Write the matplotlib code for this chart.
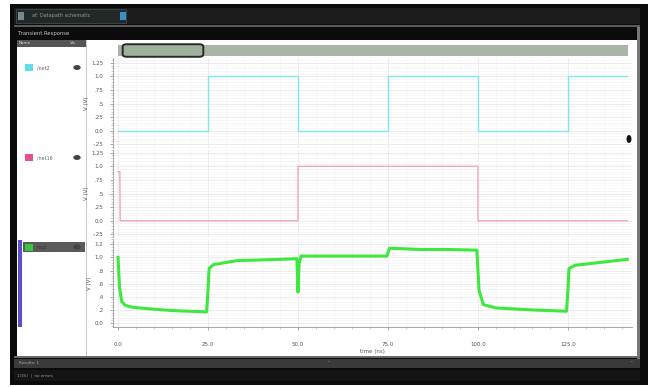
import numpy as np
import matplotlib
matplotlib.use("Agg")
import matplotlib.pyplot as plt
from matplotlib.patches import Rectangle, FancyBboxPatch, Ellipse
from matplotlib.ticker import MultipleLocator, FixedLocator

# --- data ---
net2_t = [0, 25, 25, 50, 50, 75, 75, 100, 100, 125, 125, 141.5]
net2_v = [0, 0, 1.0, 1.0, 0, 0, 1.0, 1.0, 0, 0, 1.0, 1.0]

net16_t = [0, 0.5, 0.6, 50, 50, 100, 100, 141.5]
net16_v = [0.9, 0.9, 0, 0, 1.0, 1.0, 0, 0]

out_t = [0, 0.4, 1.0, 2, 4, 8, 15, 24.6, 25.0, 25.3, 26.5, 33, 45, 49.7,
         50.0, 50.3, 50.8, 60, 74.7, 75.4, 84, 92, 99.7, 100.3, 101.5,
         105, 115, 124.6, 125.0, 125.3, 127, 135, 141.5]
out_v = [1.0, 0.55, 0.33, 0.27, 0.24, 0.22, 0.19, 0.17, 0.5, 0.83, 0.89,
         0.95, 0.97, 0.98, 0.47, 0.9, 1.02, 1.02, 1.02, 1.14, 1.12, 1.12,
         1.11, 0.5, 0.28, 0.23, 0.2, 0.18, 0.5, 0.83, 0.88, 0.93, 0.97]

volt_ticks = [-0.25, 0, 0.25, 0.5, 0.75, 1.0, 1.25]
volt_labels = ['-.25', '0.0', '.25', '.5', '.75', '1.0', '1.25']
out_ticks = [0, 0.2, 0.4, 0.6, 0.8, 1.0, 1.2]
out_labels = ['0.0', '.2', '.4', '.6', '.8', '1.0', '1.2']
time_ticks = [0, 25, 50, 75, 100, 125]
time_labels = ['0.0', '25.0', '50.0', '75.0', '100.0', '125.0']

W, H = 650, 387


def box(x0, y0, x1, y1):
    # pixel box (top-left origin) -> figure rect
    return [x0 / W, 1 - y1 / H, (x1 - x0) / W, (y1 - y0) / H]


def rect(fig, x0, y0, x1, y1, color, **kw):
    fig.add_artist(Rectangle((x0 / W, 1 - y1 / H), (x1 - x0) / W, (y1 - y0) / H,
                             transform=fig.transFigure, facecolor=color,
                             edgecolor=kw.pop('edgecolor', 'none'),
                             zorder=kw.pop('zorder', 0.5), **kw))


def ftext(fig, x, y, s, **kw):
    fig.text(x / W, 1 - y / H, s, zorder=6, **kw)


fig = plt.figure(figsize=(6.5, 3.87), dpi=100, facecolor='white')

# window chrome
rect(fig, 10, 4, 648, 385, '#0b0b0b')
rect(fig, 14, 8, 640, 24, '#1c1c1c')
rect(fig, 16, 9, 126, 23, '#222828', edgecolor='#3a4a4a', linewidth=0.6)
rect(fig, 18, 12, 24, 20, '#7a8a8a')
rect(fig, 120, 12, 126, 20, '#3a90c8')
ftext(fig, 32, 16, 'af: Datapath schematic', fontsize=3.6, color='#8a9a9a', va='center')
rect(fig, 14, 25, 640, 27, '#5a5a5a')
ftext(fig, 18, 33, 'Transient Response', fontsize=3.8, color='#c8c8c8', va='center')

# left panel and plot background
rect(fig, 17, 40, 86, 356, 'white')
rect(fig, 87, 40, 637, 356, 'white')
rect(fig, 86, 40, 87, 356, '#c8c8c8')
rect(fig, 17, 40, 86, 47, '#555555')
ftext(fig, 19, 43.5, 'Name', fontsize=3, color='#dddddd', va='center')
ftext(fig, 70, 43.5, 'Vis', fontsize=3, color='#dddddd', va='center')

# right border
rect(fig, 637, 27, 640, 360, '#777777')

# overview strip
rect(fig, 118, 45, 628, 56, '#a9b5a7')
fig.add_artist(FancyBboxPatch((124 / W, 1 - 56 / H), 78 / W, 11 / H,
                              boxstyle='round,pad=0.002,rounding_size=0.006',
                              transform=fig.transFigure, facecolor='#9fb09c',
                              edgecolor='#2a2a2a', linewidth=1.4, zorder=1))

# legend rows
rect(fig, 25, 64, 33, 71, '#5fe0e8')
ftext(fig, 37, 67.5, '/net2', fontsize=3.4, color='#666666', va='center')
rect(fig, 25, 154, 33, 161, '#e8508c')
ftext(fig, 37, 157.5, '/net16', fontsize=3.4, color='#666666', va='center')
rect(fig, 23, 242, 85, 252, '#5a5a5a')
rect(fig, 25, 243.5, 33, 250.5, '#3bc43b')
ftext(fig, 37, 247, '/out', fontsize=3.4, color='#333333', va='center')
rect(fig, 18, 240, 22, 327, '#5b50c8')
for ey in (67.5, 157.5, 247):
    fig.add_artist(Ellipse((77 / W, 1 - ey / H), 6 / W, 3.5 / H,
                           transform=fig.transFigure, color='#444444', zorder=1))

# bottom bars
rect(fig, 14, 356, 640, 358, '#6a6a6a')
rect(fig, 14, 359, 640, 368, '#3a3a3a')
ftext(fig, 19, 363.5, 'Results: 1', fontsize=3, color='#aaaaaa', va='center')
ftext(fig, 327, 363.5, '^', fontsize=3, color='#999999', va='center')
ftext(fig, 630, 363.5, '^', fontsize=3, color='#999999', va='center')
rect(fig, 14, 370, 640, 381, '#141414')
ftext(fig, 17, 375.5, '1(35)  |  no errors', fontsize=3, color='#999999', va='center')

# waveform axes
panels = [
    (58, 148, net2_t, net2_v, '#7fe6ee', 1.0, (-0.32, 1.34), volt_ticks, volt_labels),
    (150, 237, net16_t, net16_v, '#f2a6b8', 1.0, (-0.30, 1.30), volt_ticks, volt_labels),
    (239, 327, out_t, out_v, '#3ee83e', 2.2, (-0.06, 1.28), out_ticks, out_labels),
]
axes = []
for i, (y0, y1, t, v, col, lw, ylim, yt, yl) in enumerate(panels):
    ax = fig.add_axes(box(113, y0, 632, y1))
    ax.set_zorder(3)
    ax.set_facecolor('white')
    ax.plot(t, v, color=col, linewidth=lw, solid_joinstyle='round')
    ax.set_xlim(-1.4, 142.8)
    ax.set_ylim(*ylim)
    ax.yaxis.set_major_locator(FixedLocator(yt))
    ax.set_yticklabels(yl)
    step = yt[1] - yt[0]
    ax.yaxis.set_minor_locator(MultipleLocator(step / 5))
    ax.xaxis.set_major_locator(FixedLocator(time_ticks))
    ax.xaxis.set_minor_locator(MultipleLocator(5))
    ax.grid(True, which='major', color='#e4e4e4', linewidth=0.5)
    ax.grid(True, which='minor', color='#f2f2f2', linewidth=0.4)
    ax.set_axisbelow(True)
    for s in ('top', 'right'):
        ax.spines[s].set_visible(False)
    ax.spines['left'].set_color('#9a9a9a')
    ax.spines['left'].set_linewidth(0.6)
    ax.tick_params(axis='y', which='major', labelsize=4, colors='#888888',
                   labelcolor='#555555', length=2, width=0.5, pad=5)
    ax.tick_params(axis='y', which='minor', colors='#aaaaaa', length=1.2, width=0.4)
    ax.set_ylabel('V (V)', fontsize=4, color='#555555', labelpad=1.5)
    if i < 2:
        ax.spines['bottom'].set_visible(False)
        ax.tick_params(axis='x', which='both', bottom=False, labelbottom=False)
    else:
        ax.spines['bottom'].set_color('#9a9a9a')
        ax.spines['bottom'].set_linewidth(0.6)
        ax.set_xticklabels(time_labels)
        ax.tick_params(axis='x', which='major', labelsize=4, colors='#888888',
                       labelcolor='#555555', length=2, width=0.5, pad=9)
        ax.tick_params(axis='x', which='minor', colors='#aaaaaa', length=1.2, width=0.4)
        ax.set_xlabel('time (ns)', fontsize=4, color='#555555', labelpad=1)
    axes.append(ax)

# small marker at right edge of the top panel
fig.add_artist(Ellipse((629 / W, 1 - 139 / H), 3.5 / W, 6.5 / H,
                       transform=fig.transFigure, color='#111111', zorder=8))

fig.savefig('out.png', dpi=100, facecolor='white')
